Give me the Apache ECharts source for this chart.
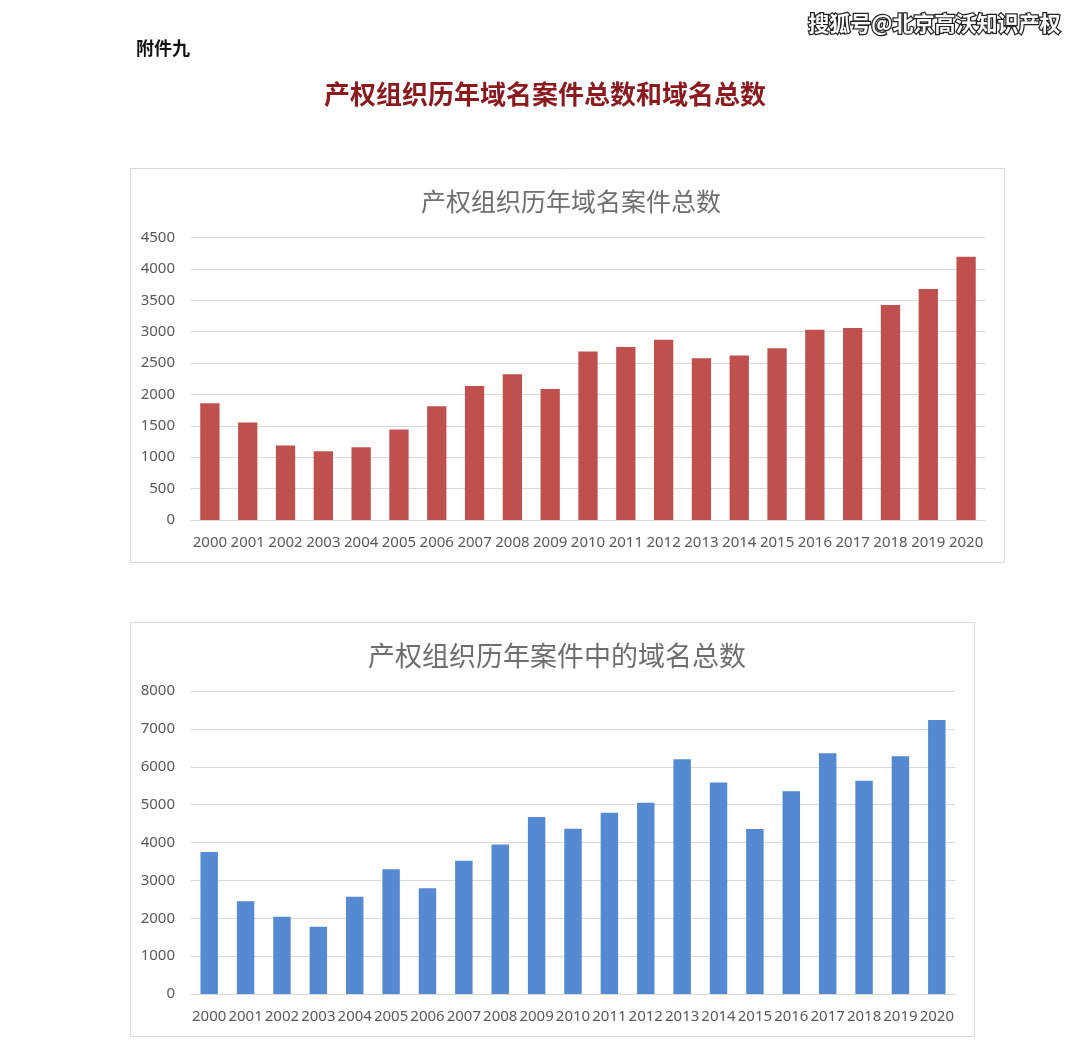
<!DOCTYPE html>
<html>
<head>
<meta charset="utf-8">
<script src="https://cdn.jsdelivr.net/npm/echarts@6/dist/echarts.min.js"></script>
<style>
html,body{margin:0;padding:0;background:#fff;}
#main{width:1080px;height:1052px;}
</style>
</head>
<body>
<div id="main"></div>
<script>
const years = ['2000','2001','2002','2003','2004','2005','2006','2007','2008','2009','2010','2011','2012','2013','2014','2015','2016','2017','2018','2019','2020'];
const caseTotals = [1860,1555,1185,1095,1160,1440,1810,2135,2320,2085,2685,2755,2870,2575,2620,2735,3030,3060,3425,3680,4195];
const domainTotals = [3750,2450,2040,1775,2565,3295,2790,3520,3950,4670,4365,4785,5050,6200,5585,4355,5355,6355,5630,6280,7235];
const headerText = '附件九';
const mainTitle = '产权组织历年域名案件总数和域名总数';
const chart1Title = '产权组织历年域名案件总数';
const chart2Title = '产权组织历年案件中的域名总数';
const watermark = '搜狐号@北京高沃知识产权';

const chart = echarts.init(document.getElementById('main'), null, {renderer:'canvas'});
const labelFont = {color:'#595959', fontSize:15, fontFamily:'"Noto Sans", "Open Sans", sans-serif'};
const gridLine = {show:true, lineStyle:{color:'#d9d9d9', width:1}};
const plain = v => String(v);

chart.setOption({
  backgroundColor:'#ffffff',
  animation:false,
  graphic:[
    {type:'rect', shape:{x:130.5, y:168.5, width:874, height:394}, style:{fill:'none', stroke:'#d9d9d9', lineWidth:1}, silent:true, z:-1},
    {type:'rect', shape:{x:130.5, y:622.5, width:844, height:414}, style:{fill:'none', stroke:'#d9d9d9', lineWidth:1}, silent:true, z:-1}
  ],
  title:[
    {text:headerText, left:131, top:34, textStyle:{fontSize:18, fontWeight:'bold', color:'#111', fontFamily:'"Noto Sans CJK SC", sans-serif'}},
    {text:mainTitle, left:540, textAlign:'center', top:76, textStyle:{fontSize:26, fontWeight:'bold', color:'#8b1a1f', fontFamily:'"Noto Sans CJK SC", sans-serif'}},
    {text:watermark, right:12, top:8, textStyle:{fontSize:21, fontWeight:'bold', color:'#ffffff', textBorderColor:'#222', textBorderWidth:2.5, fontFamily:'"Noto Sans CJK SC", sans-serif'}},
    {text:chart1Title, left:566, textAlign:'center', top:184, textStyle:{fontSize:25, fontWeight:'normal', color:'#6e6e6e', fontFamily:'"Noto Sans CJK SC", sans-serif'}},
    {text:chart2Title, left:552, textAlign:'center', top:637, textStyle:{fontSize:27, fontWeight:'normal', color:'#6e6e6e', fontFamily:'"Noto Sans CJK SC", sans-serif'}}
  ],
  grid:[
    {left:191, right:95, top:237.5, height:282.5},
    {left:191, right:125, top:691, height:303}
  ],
  xAxis:[
    {type:'category', gridIndex:0, data:years, axisTick:{show:false}, axisLine:{lineStyle:{color:'#d9d9d9'}}, axisLabel:Object.assign({interval:0, margin:15}, labelFont)},
    {type:'category', gridIndex:1, data:years, axisTick:{show:false}, axisLine:{lineStyle:{color:'#d9d9d9'}}, axisLabel:Object.assign({interval:0, margin:15}, labelFont)}
  ],
  yAxis:[
    {type:'value', gridIndex:0, min:0, max:4500, interval:500, splitLine:gridLine, axisLine:{show:false}, axisTick:{show:false}, axisLabel:Object.assign({margin:16, formatter:plain}, labelFont)},
    {type:'value', gridIndex:1, min:0, max:8000, interval:1000, splitLine:gridLine, axisLine:{show:false}, axisTick:{show:false}, axisLabel:Object.assign({margin:16, formatter:plain}, labelFont)}
  ],
  series:[
    {type:'bar', xAxisIndex:0, yAxisIndex:0, data:caseTotals, barWidth:'51%', itemStyle:{color:'#c0504d'}},
    {type:'bar', xAxisIndex:1, yAxisIndex:1, data:domainTotals, barWidth:'48%', itemStyle:{color:'#558ad2'}}
  ]
});
</script>
</body>
</html>
